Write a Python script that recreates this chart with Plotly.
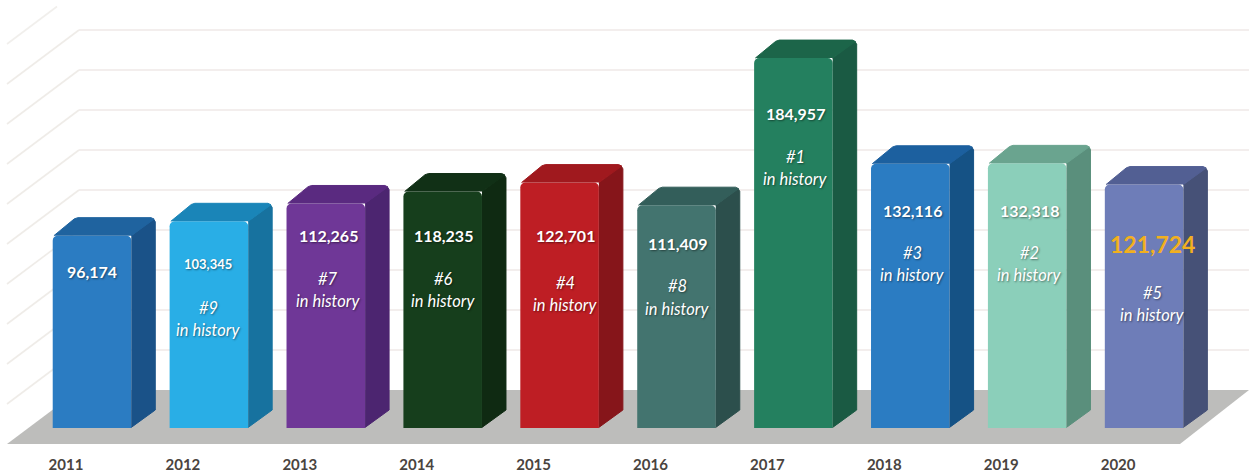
import plotly.graph_objects as go

years = ["2011", "2012", "2013", "2014", "2015", "2016", "2017", "2018", "2019", "2020"]
values = [96174, 103345, 112265, 118235, 122701, 111409, 184957, 132116, 132318, 121724]
value_labels = ["96,174", "103,345", "112,265", "118,235", "122,701", "111,409", "184,957", "132,116", "132,318", "121,724"]
ranks = ["", "#9", "#7", "#6", "#4", "#8", "#1", "#3", "#2", "#5"]
front_colors = ["#2b7cc2", "#29aee6", "#6f3797", "#163e1c", "#be1e24", "#43746f", "#24805f", "#2b7cc2", "#8bcfba", "#6e7db8"]
top_colors = ["#1f639f", "#1a85b8", "#5a2a80", "#113016", "#a0191e", "#335e5a", "#1c6549", "#1c609f", "#6aa48f", "#525f93"]
side_colors = ["#1a5288", "#17729f", "#4c2570", "#0f2a12", "#86151a", "#2c4f4c", "#1a5a43", "#155285", "#5a8f7c", "#465177"]
grid_values = [20000 * k for k in range(1, 10)]

# layout constants (pixels of the 1253x474 page)
W, H, BOTTOM = 1253, 474, 20
BASE_PX, PX_PER_UNIT = 428, 2 / 1000
X0_PX, STEP_PX = 92, 116.9
BAR_W = 0.672
DX_PX, DY_PX = 24, 18
WALL_LEFT, WALL_RIGHT, FLOOR_FRONT_L, FLOOR_FRONT_R = 79, 1249, 7, 1180
WALL_BASE_PX, FLOOR_FRONT_PX = 390, 444
label_x_px = [92, 208, 328, 443, 565, 677, 795, 912, 1029, 1152]
value_y_px = [271, 264, 235, 235, 235, 243, 113, 210, 210, 244]
rank_y_px = [0, 308, 279, 279, 283, 286, 157, 253, 253, 293]
hist_y_px = [0, 330, 301, 301, 305, 309, 179, 275, 275, 315]
value_sizes = [16, 13, 16, 16, 16, 16, 16, 16, 16, 23]

fx = lambda px: (px - X0_PX) / STEP_PX
fy = lambda py: (BASE_PX - py) / PX_PER_UNIT
dx, dy = DX_PX / STEP_PX, DY_PX / PX_PER_UNIT
cx, cy = 6 / STEP_PX, 6 / PX_PER_UNIT

fig = go.Figure()
idx = list(range(len(years)))

# floor and wall grid
shapes = [dict(
    type="path", layer="below", line_width=0, fillcolor="#bdbdbb",
    path=(f"M{fx(FLOOR_FRONT_L)},{fy(FLOOR_FRONT_PX)} L{fx(WALL_LEFT)},{fy(WALL_BASE_PX)} "
          f"L{fx(WALL_RIGHT)},{fy(WALL_BASE_PX)} L{fx(FLOOR_FRONT_R)},{fy(FLOOR_FRONT_PX)} Z"),
)]
slope = (FLOOR_FRONT_PX - WALL_BASE_PX) / (WALL_LEFT - FLOOR_FRONT_L)
for v in grid_values:
    wall_py = WALL_BASE_PX - v * PX_PER_UNIT
    shapes.append(dict(type="line", layer="below", x0=fx(WALL_LEFT), x1=fx(WALL_RIGHT),
                       y0=fy(wall_py), y1=fy(wall_py), line=dict(color="#efe9e7", width=1.6)))
    shapes.append(dict(type="line", layer="below", x0=fx(FLOOR_FRONT_L), x1=fx(WALL_LEFT),
                       y0=fy(wall_py + (WALL_LEFT - FLOOR_FRONT_L) * slope), y1=fy(wall_py),
                       line=dict(color="#efece8", width=1.6)))
# the next gridline up shows only on the side wall
top_py = WALL_BASE_PX - 200000 * PX_PER_UNIT
shapes.append(dict(type="line", layer="below", x0=fx(FLOOR_FRONT_L), x1=fx(57),
                   y0=fy(top_py + (WALL_LEFT - FLOOR_FRONT_L) * slope),
                   y1=fy(top_py + (WALL_LEFT - 57) * slope), line=dict(color="#f1efec", width=1.6)))

# front faces
fig.add_trace(go.Bar(x=idx, y=values, width=BAR_W, marker=dict(color=front_colors, line_width=0, cornerradius=5),
                     hoverinfo="skip", showlegend=False))

# side and top faces, derived from the same values
for i, v in enumerate(values):
    x1 = i + BAR_W / 2
    x0 = i - BAR_W / 2
    fig.add_trace(go.Scatter(
        x=[x1, x1 + dx, x1 + dx, x1 + dx - cx * 0.3, x1],
        y=[cy * 0.1, dy, v + dy - cy * 0.7, v + dy - cy * 0.2, v],
        mode="lines", fill="toself", fillcolor=side_colors[i], line=dict(color=side_colors[i], width=1),
        hoverinfo="skip", showlegend=False))
    fig.add_trace(go.Scatter(
        x=[x0 + cx * 0.2, x0 + dx - cx * 0.4, x0 + dx + cx * 0.2, x1 + dx - cx * 0.7, x1 + dx - cx * 0.2, x1],
        y=[v, v + dy - cy * 0.2, v + dy, v + dy, v + dy - cy * 0.25, v],
        mode="lines", fill="toself", fillcolor=top_colors[i], line=dict(color=top_colors[i], width=1),
        hoverinfo="skip", showlegend=False))

# labels
SHADOW = "1px 1px 2px rgba(0,0,0,0.45)"
FAMILY = "Lato, Open Sans, sans-serif"
anns = []
for i in idx:
    big = years[i] == "2020"
    lx = fx(label_x_px[i])
    anns.append(dict(x=lx, y=fy(value_y_px[i]), text=f"<b>{value_labels[i]}</b>", showarrow=False,
                     font=dict(family=FAMILY, size=value_sizes[i],
                               color="#f2b01e" if big else "#ffffff", shadow="none" if big else SHADOW)))
    if ranks[i]:
        anns.append(dict(x=lx, y=fy(rank_y_px[i]), text=f"<i>{ranks[i]}</i>", showarrow=False,
                         font=dict(family=FAMILY, size=16.5, color="#ffffff", shadow=SHADOW)))
        anns.append(dict(x=lx, y=fy(hist_y_px[i]), text="<i>in history</i>", showarrow=False,
                         font=dict(family=FAMILY, size=16.5, color="#ffffff", shadow=SHADOW)))

fig.update_layout(
    width=W, height=H, margin=dict(l=0, r=0, t=0, b=BOTTOM),
    paper_bgcolor="#ffffff", plot_bgcolor="#ffffff", showlegend=False,
    shapes=shapes, annotations=anns, barmode="overlay",
    xaxis=dict(range=[fx(0), fx(W)], tickmode="array", tickvals=idx, ticktext=[f"<b>{y}</b>" for y in years],
               showgrid=False, zeroline=False, showline=False, ticks="", automargin=False,
               ticklabelshift=-26, ticklabelstandoff=0,
               tickfont=dict(family=FAMILY, size=15, color="#4a4440")),
    yaxis=dict(range=[fy(H - BOTTOM), fy(0)], visible=False, automargin=False),
)
fig.write_html("out.html", post_script="document.body.style.margin='0';", config=dict(displayModeBar=False))
